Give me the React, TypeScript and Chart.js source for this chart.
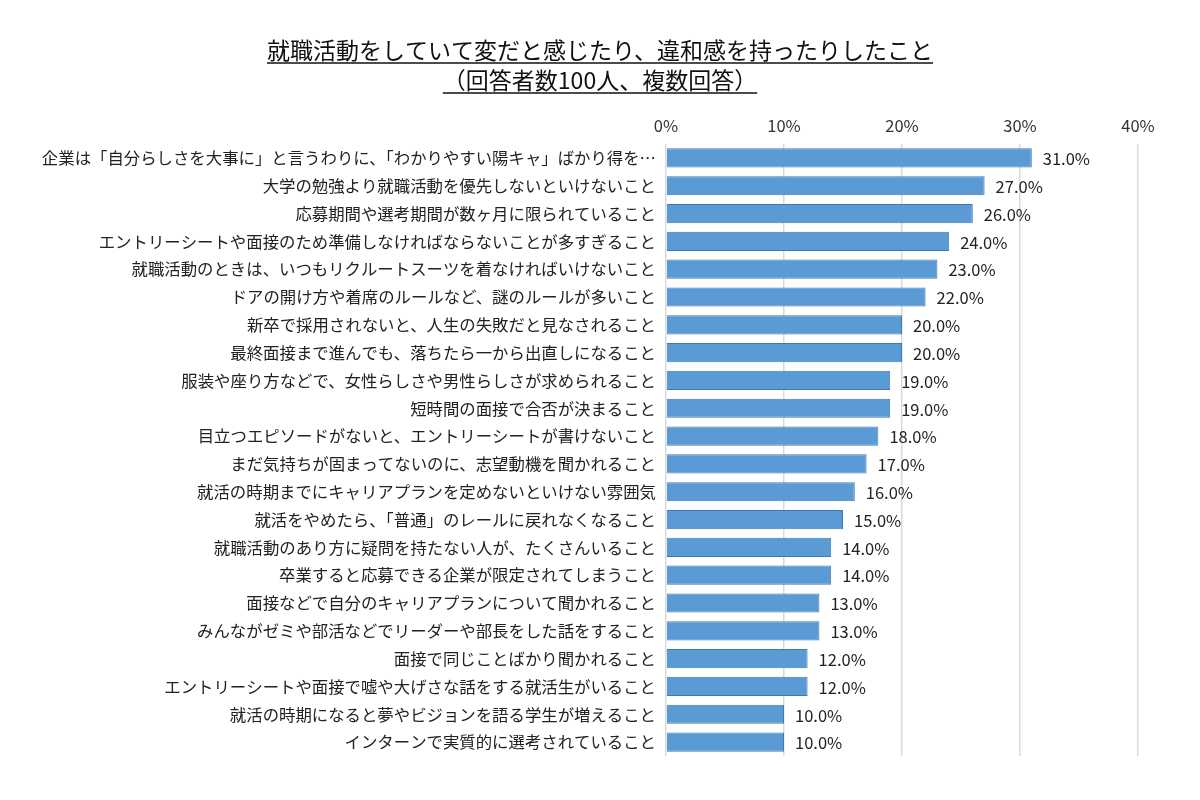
import { useEffect, useRef } from "react";
import { Chart, registerables } from "chart.js";

Chart.register(...registerables);

const titleLines = [
  "就職活動をしていて変だと感じたり、違和感を持ったりしたこと",
  "（回答者数100人、複数回答）",
];

const categories = [
  "企業は「自分らしさを大事に」と言うわりに、「わかりやすい陽キャ」ばかり得を…",
  "大学の勉強より就職活動を優先しないといけないこと",
  "応募期間や選考期間が数ヶ月に限られていること",
  "エントリーシートや面接のため準備しなければならないことが多すぎること",
  "就職活動のときは、いつもリクルートスーツを着なければいけないこと",
  "ドアの開け方や着席のルールなど、謎のルールが多いこと",
  "新卒で採用されないと、人生の失敗だと見なされること",
  "最終面接まで進んでも、落ちたら一から出直しになること",
  "服装や座り方などで、女性らしさや男性らしさが求められること",
  "短時間の面接で合否が決まること",
  "目立つエピソードがないと、エントリーシートが書けないこと",
  "まだ気持ちが固まってないのに、志望動機を聞かれること",
  "就活の時期までにキャリアプランを定めないといけない雰囲気",
  "就活をやめたら、「普通」のレールに戻れなくなること",
  "就職活動のあり方に疑問を持たない人が、たくさんいること",
  "卒業すると応募できる企業が限定されてしまうこと",
  "面接などで自分のキャリアプランについて聞かれること",
  "みんながゼミや部活などでリーダーや部長をした話をすること",
  "面接で同じことばかり聞かれること",
  "エントリーシートや面接で嘘や大げさな話をする就活生がいること",
  "就活の時期になると夢やビジョンを語る学生が増えること",
  "インターンで実質的に選考されていること",
];

const percents = [31, 27, 26, 24, 23, 22, 20, 20, 19, 19, 18, 17, 16, 15, 14, 14, 13, 13, 12, 12, 10, 10];

const axisMax = 40;
const axisStep = 10;

const FONT = "'Noto Sans CJK JP', 'Noto Sans', sans-serif";

const titlePlugin = {
  id: "underlinedTitle",
  afterDraw(chart: any) {
    const ctx = chart.ctx;
    ctx.save();
    ctx.font = `23px ${FONT}`;
    ctx.fillStyle = "#111";
    ctx.strokeStyle = "#111";
    ctx.lineWidth = 1.5;
    ctx.textAlign = "center";
    ctx.textBaseline = "alphabetic";
    const ys = [59, 89];
    titleLines.forEach((t, i) => {
      const w = ctx.measureText(t).width;
      ctx.fillText(t, 600, ys[i]);
      ctx.beginPath();
      ctx.moveTo(600 - w / 2, ys[i] + 4);
      ctx.lineTo(600 + w / 2, ys[i] + 4);
      ctx.stroke();
    });
    ctx.restore();
  },
};

const valueLabels = {
  id: "valueLabels",
  afterDatasetsDraw(chart: any) {
    const ctx = chart.ctx;
    const meta = chart.getDatasetMeta(0);
    ctx.save();
    ctx.font = `16.5px ${FONT}`;
    ctx.fillStyle = "#222";
    ctx.textAlign = "left";
    ctx.textBaseline = "middle";
    meta.data.forEach((bar: any, i: number) => {
      ctx.fillText(percents[i].toFixed(1) + "%", bar.x + 11, bar.y + 1);
    });
    ctx.restore();
  },
};

export default function App() {
  const canvasRef = useRef<HTMLCanvasElement | null>(null);
  const chartRef = useRef<Chart | null>(null);

  useEffect(() => {
    if (!canvasRef.current) return;
    if (chartRef.current) chartRef.current.destroy();

    chartRef.current = new Chart(canvasRef.current, {
      type: "bar",
      data: {
        labels: categories,
        datasets: [
          {
            data: percents,
            backgroundColor: "#5b9bd5",
            borderColor: "#4479b0",
            borderWidth: 1,
            barPercentage: 0.69,
            categoryPercentage: 1,
          },
        ],
      },
      options: {
        indexAxis: "y",
        animation: false,
        responsive: false,
        maintainAspectRatio: false,
        layout: { padding: { top: 100, right: 62, bottom: 44, left: 0 } },
        plugins: {
          legend: { display: false },
          tooltip: { enabled: false },
        },
        scales: {
          x: {
            position: "top",
            min: 0,
            max: axisMax,
            border: { display: false },
            grid: { color: "#d9d9d9", lineWidth: 1.5, drawTicks: false },
            ticks: {
              stepSize: axisStep,
              padding: 8,
              color: "#333",
              font: { family: FONT, size: 16.5 },
              callback: (v: any) => v + "%",
            },
            afterFit: (s: any) => {
              s.height = 44;
            },
          },
          y: {
            border: { display: false },
            grid: { display: false, drawTicks: false },
            ticks: {
              padding: 10,
              color: "#222",
              autoSkip: false,
              font: { family: FONT, size: 16.4 },
            },
            afterFit: (s: any) => {
              s.width = 666;
            },
          },
        },
      },
      plugins: [titlePlugin, valueLabels],
    });

    return () => {
      if (chartRef.current) {
        chartRef.current.destroy();
        chartRef.current = null;
      }
    };
  }, []);

  return (
    <div style={{ position: "fixed", left: 0, top: 0, width: 1200, height: 800, background: "#fff" }}>
      <canvas ref={canvasRef} width={1200} height={800} style={{ width: 1200, height: 800 }} />
    </div>
  );
}
